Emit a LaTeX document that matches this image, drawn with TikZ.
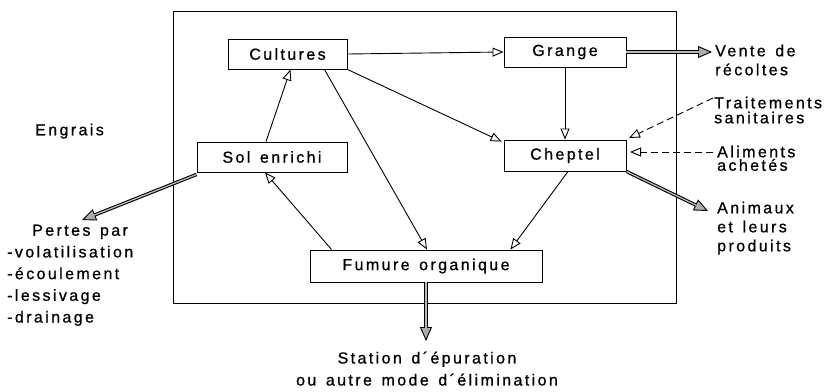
\documentclass[tikz,border=0pt]{standalone}
\usepackage{fontspec}
\setmainfont[LetterSpace=15,WordSpace=1.4,FakeBold=0.8]{Liberation Sans}
\usetikzlibrary{arrows.meta}
\newcommand{\lbl}{\fontsize{16}{19}\selectfont}
\tikzset{
  box/.style={draw, line width=0.9pt, inner sep=0pt, font=\lbl},
  lab/.style={inner sep=0pt, font=\lbl, align=left, anchor=north west},
  openarr/.style={line width=0.9pt, -{Triangle[open,length=11pt,width=9pt,line width=0.9pt,fill=white]}},
  dasharr/.style={line width=0.9pt, dash pattern=on 7pt off 4pt, -{Triangle[open,length=11pt,width=9pt,line width=0.9pt,fill=white]}},
  thickarr/.style={line width=3.4pt, draw=black, -{Triangle[length=14pt,width=12pt,line width=0.9pt,fill=gray!65]},
     postaction={draw=gray!55, line width=1.3pt, -, shorten >=13pt}},
}
\begin{document}
\begin{tikzpicture}[x=1pt,y=-1pt]
\useasboundingbox (0,0) rectangle (829,391);
\draw[line width=0.9pt] (173,11) rectangle (676,303);

\node[box, minimum width=119pt, minimum height=30pt] (cult) at (287.5,54) {Cultures};
\node[box, minimum width=122pt, minimum height=30pt] (grange) at (565,52) {Grange};
\node[box, minimum width=150pt, minimum height=30pt] (sol) at (272,157) {Sol enrichi};
\node[box, minimum width=122pt, minimum height=31pt] (chep) at (565,155.5) {Cheptel};
\node[box, minimum width=232pt, minimum height=32pt] (fum) at (426,266) {Fumure organique};

\node[lab] (engrais) at (35,123.5) {Engrais};
\node[lab] (vente) at (715,44.5) {Vente de\\récoltes};
\node[lab, font={\fontsize{16}{15}\selectfont}] (trait) at (714,96.5) {Traitements\\sanitaires};
\node[lab, font={\fontsize{16}{13.5}\selectfont}] (alim) at (717,145.5) {Aliments\\achetés};
\node[lab] (anim) at (717,201.5) {Animaux\\et leurs\\produits};
\node[lab, font={\fontsize{16}{21.7}\selectfont}] (pertes) at (7,224.5) {\hspace{25pt}Pertes par\\-volatilisation\\-écoulement\\-lessivage\\-drainage};
\node[lab, anchor=north, align=center, font={\fontsize{16}{22}\selectfont}] (station) at (427,351.5) {Station d´épuration\\ou autre mode d´élimination};

\coordinate (ventetip) at (712,52);
\coordinate (animtip) at (708,211);
\coordinate (pertestip) at (82,220);
\coordinate (stationtip) at (426,341);
\coordinate (traitfrom) at (713,98);
\coordinate (traittip) at (629,138);
\coordinate (alimfrom) at (713,152);
\coordinate (alimtip) at (630,152);

\draw[openarr] (cult.east) -- (grange.west);
\draw[openarr] (grange.south) -- (chep.north);
\draw[openarr] (cult.south east) -- ([xshift=-2pt,yshift=-2pt]chep.north west);
\draw[openarr] ([xshift=-23pt]cult.south east) -- ([xshift=1pt]fum.north);
\draw[openarr] ([xshift=-6pt]sol.north) -- ([xshift=3pt]cult.south);
\draw[openarr] ([xshift=22pt]fum.north west) -- ([xshift=-7pt]sol.south);
\draw[openarr] ([xshift=3pt]chep.south) -- ([xshift=-32pt]fum.north east);

\draw[thickarr] (grange.east) -- (ventetip);
\draw[thickarr] (chep.south east) -- (animtip);
\draw[thickarr] ([yshift=-2pt]sol.south west) -- (pertestip);
\draw[thickarr] (fum.south) -- (stationtip);

\draw[dasharr] (traitfrom) -- (traittip);
\draw[dasharr] (alimfrom) -- (alimtip);
\end{tikzpicture}
\end{document}
